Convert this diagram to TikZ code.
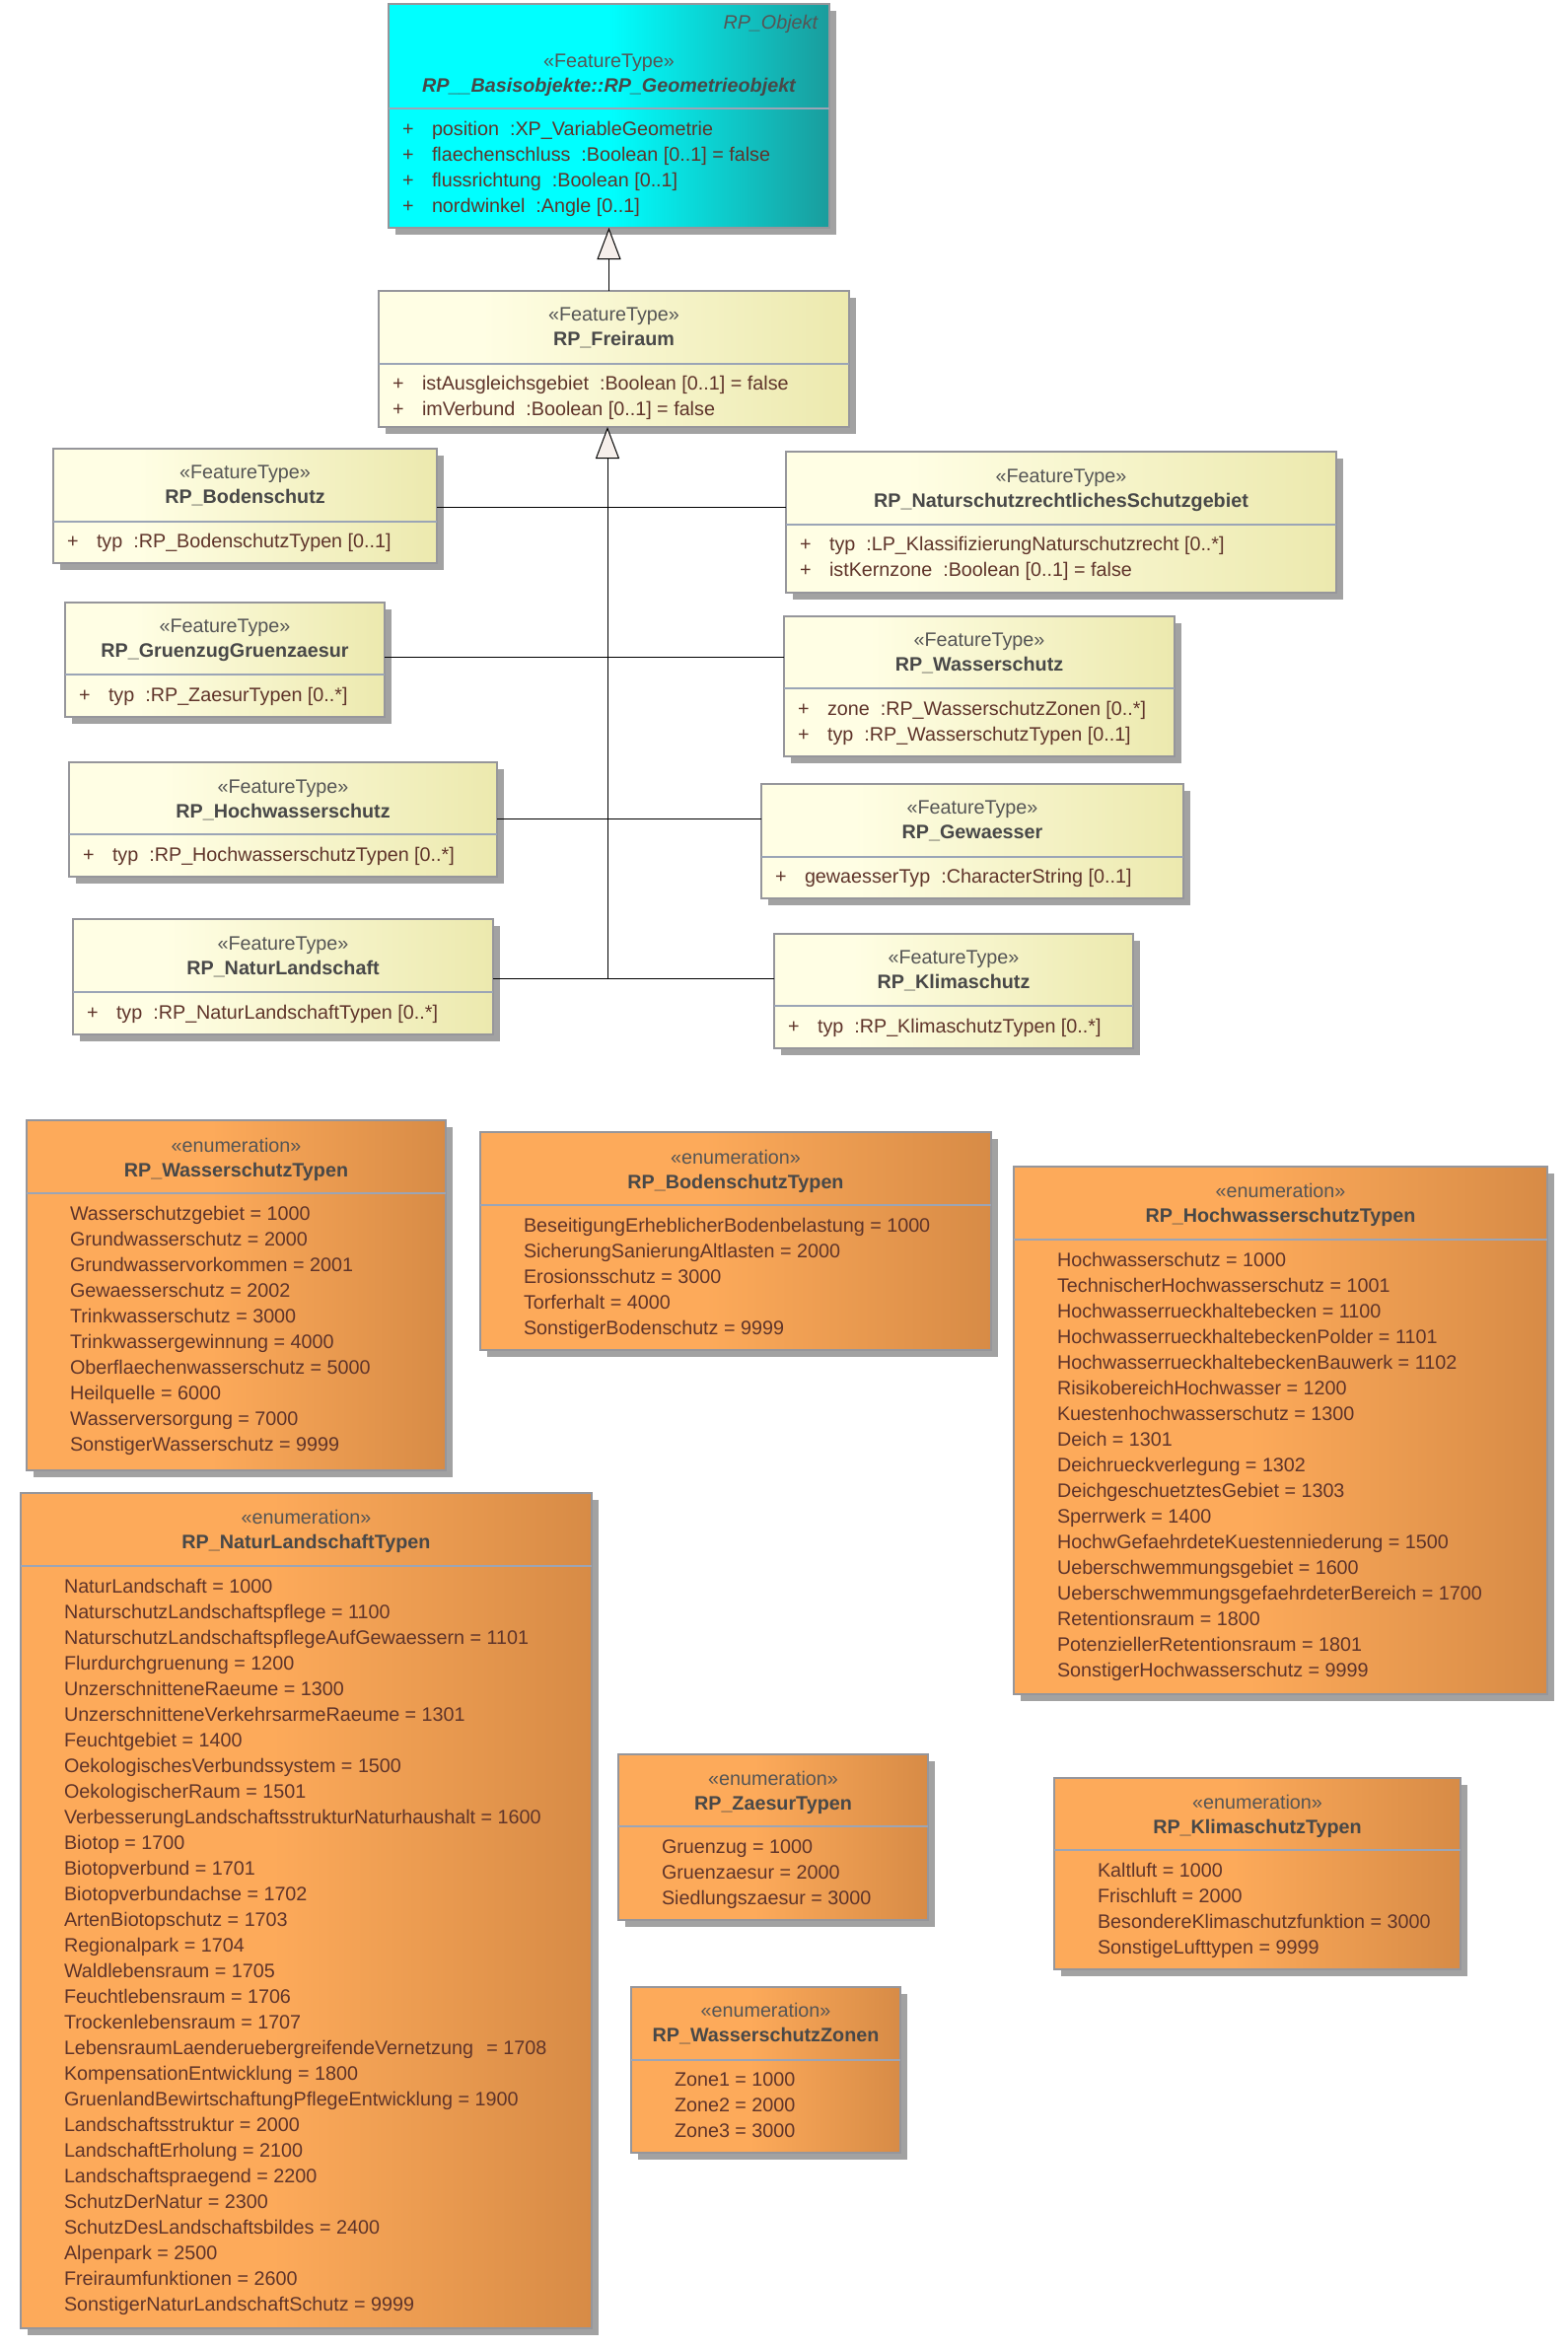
\documentclass[tikz,border=0pt]{standalone}
\usepackage{fontspec}
\setmainfont{Liberation Sans}
\usetikzlibrary{arrows.meta,shadows}

\definecolor{clsL}{RGB}{255,254,228}
\definecolor{clsR}{RGB}{236,233,174}
\definecolor{objL}{RGB}{0,255,255}
\definecolor{objR}{RGB}{26,156,156}
\definecolor{enL}{RGB}{253,170,90}
\definecolor{enR}{RGB}{215,139,70}
\definecolor{bordc}{RGB}{150,150,155}
\definecolor{divc}{RGB}{155,165,182}
\definecolor{shadc}{RGB}{162,162,162}
\definecolor{stc}{RGB}{85,85,85}
\definecolor{namec}{RGB}{72,72,72}
\definecolor{attc}{RGB}{95,52,42}
\definecolor{genfill}{RGB}{246,239,235}

\pgfdeclarehorizontalshading{clssh}{100bp}{color(0bp)=(clsL); color(25bp)=(clsL); color(36bp)=(clsL); color(75bp)=(clsR); color(100bp)=(clsR)}
\pgfdeclarehorizontalshading{objsh}{100bp}{color(0bp)=(objL); color(25bp)=(objL); color(50bp)=(objL); color(75bp)=(objR); color(100bp)=(objR)}
\pgfdeclarehorizontalshading{ensh}{100bp}{color(0bp)=(enL); color(25bp)=(enL); color(47bp)=(enL); color(75bp)=(enR); color(100bp)=(enR)}

\newcommand{\gp}{\hspace{11pt}}
% box: name, style, L, T, R, B, divider y
\newcommand{\ubox}[7]{%
  \node[#2, minimum width={(#5-#3)*1pt}, minimum height={(#6-#4)*1pt}] (#1) at (#3,#4) {};
  \draw[divline] (#3,#7) -- (#5,#7);
}
% header: prefix, cx, stereo y, stereotype, title
\newcommand{\hdr}[5]{%
  \node[sttext, anchor=base] (#1s) at (#2,#3+7) {«#4»};
  \node[nmtext, anchor=base] (#1n) at (#2,#3+32.5) {#5};
}
% attribute: id, L, y, text
\newcommand{\att}[4]{%
  \node[attext, anchor=base west] (#1p) at (#2+14,#3+7) {+};
  \node[attext, anchor=base west] (#1) at (#2+44,#3+7) {#4};
}
% literals: prefix, L, first y, list
\newcommand{\lits}[4]{%
  \foreach \t [count=\i from 0] in {#4} {%
    \node[attext, anchor=base west] (#1-\i) at (#2+44,#3+26*\i+7) {\t};
  }%
}

\begin{document}
\begin{tikzpicture}[x=1pt,y=-1pt,
  every node/.style={inner sep=0pt, outer sep=0pt, font=\fontsize{19.75}{23}\selectfont},
  boxbase/.style={draw=bordc, line width=1.2pt, anchor=north west,
    drop shadow={shadow xshift=6.5pt, shadow yshift=-6.5pt, fill=shadc, opacity=1}},
  clsbox/.style={boxbase, shade, shading=clssh},
  objbox/.style={boxbase, shade, shading=objsh},
  enbox/.style={boxbase, shade, shading=ensh},
  divline/.style={draw=divc, line width=1.2pt},
  sttext/.style={text=stc},
  nmtext/.style={text=namec, font=\fontsize{19.75}{23}\selectfont\bfseries},
  attext/.style={text=attc},
  conn/.style={draw=black, line width=1pt},
  gen/.style={draw=black, line width=1pt, -{Triangle[length=32pt, width=24pt, fill=genfill]}}
]
\useasboundingbox (0,0) rectangle (1590,2380);
\fill[white] (0,0) rectangle (1590,2380);

% ---------- RP_Geometrieobjekt ----------
\ubox{obj}{objbox}{394}{4}{841}{231}{110}
\node[sttext, anchor=base east, font=\fontsize{19.75}{23}\selectfont\itshape] (objtag) at (829,29) {RP\_Objekt};
\node[sttext, anchor=base] (objs) at (617.5,68) {«FeatureType»};
\node[nmtext, anchor=base, font=\fontsize{19.75}{23}\selectfont\bfseries\itshape] (objn) at (617.5,93.5) {RP\_\_Basisobjekte::RP\_Geometrieobjekt};
\att{obja1}{394}{130}{position\gp:XP\_VariableGeometrie}
\att{obja2}{394}{156}{flaechenschluss\gp:Boolean [0..1] = false}
\att{obja3}{394}{182}{flussrichtung\gp:Boolean [0..1]}
\att{obja4}{394}{208}{nordwinkel\gp:Angle [0..1]}

% ---------- RP_Freiraum ----------
\ubox{frei}{clsbox}{384}{295}{861}{433}{369}
\hdr{frei}{622.5}{318}{FeatureType}{RP\_Freiraum}
\att{freia1}{384}{388}{istAusgleichsgebiet\gp:Boolean [0..1] = false}
\att{freia2}{384}{414}{imVerbund\gp:Boolean [0..1] = false}

% ---------- subclasses ----------
\ubox{bod}{clsbox}{54}{455}{443}{571}{529}
\hdr{bod}{248.5}{478}{FeatureType}{RP\_Bodenschutz}
\att{boda1}{54}{548}{typ\gp:RP\_BodenschutzTypen [0..1]}

\ubox{nsg}{clsbox}{797}{458}{1355}{601}{532}
\hdr{nsg}{1076}{482}{FeatureType}{RP\_NaturschutzrechtlichesSchutzgebiet}
\att{nsga1}{797}{551}{typ\gp:LP\_KlassifizierungNaturschutzrecht [0..*]}
\att{nsga2}{797}{577}{istKernzone\gp:Boolean [0..1] = false}

\ubox{grz}{clsbox}{66}{611}{390}{727}{684}
\hdr{grz}{228}{634}{FeatureType}{RP\_GruenzugGruenzaesur}
\att{grza1}{66}{704}{typ\gp:RP\_ZaesurTypen [0..*]}

\ubox{wsz}{clsbox}{795}{625}{1191}{767}{698}
\hdr{wsz}{993}{648}{FeatureType}{RP\_Wasserschutz}
\att{wsza1}{795}{718}{zone\gp:RP\_WasserschutzZonen [0..*]}
\att{wsza2}{795}{744}{typ\gp:RP\_WasserschutzTypen [0..1]}

\ubox{hws}{clsbox}{70}{773}{504}{889}{846}
\hdr{hws}{287}{797}{FeatureType}{RP\_Hochwasserschutz}
\att{hwsa1}{70}{866}{typ\gp:RP\_HochwasserschutzTypen [0..*]}

\ubox{gew}{clsbox}{772}{795}{1200}{911}{869}
\hdr{gew}{986}{818}{FeatureType}{RP\_Gewaesser}
\att{gewa1}{772}{888}{gewaesserTyp\gp:CharacterString [0..1]}

\ubox{nat}{clsbox}{74}{932}{500}{1049}{1006}
\hdr{nat}{287}{956}{FeatureType}{RP\_NaturLandschaft}
\att{nata1}{74}{1026}{typ\gp:RP\_NaturLandschaftTypen [0..*]}

\ubox{kli}{clsbox}{785}{947}{1149}{1063}{1020}
\hdr{kli}{967}{970}{FeatureType}{RP\_Klimaschutz}
\att{klia1}{785}{1040}{typ\gp:RP\_KlimaschutzTypen [0..*]}

% ---------- connectors ----------
\coordinate (j1) at (616,514);
\coordinate (j2) at (616,666);
\coordinate (j3) at (616,830);
\coordinate (tb) at (616,992);
\draw[conn] (bod.east |- j1) -- (nsg.west |- j1);
\draw[conn] (grz.east |- j2) -- (wsz.west |- j2);
\draw[conn] (hws.east |- j3) -- (gew.west |- j3);
\draw[conn] (nat.east |- tb) -- (kli.west |- tb);
\draw[gen] (tb) -- (tb |- frei.south);
\draw[gen] (frei.north -| obj.south) -- (obj.south);

% ---------- enumerations ----------
\ubox{e1}{enbox}{27}{1136}{452}{1491}{1210}
\hdr{e1}{239.5}{1161}{enumeration}{RP\_WasserschutzTypen}
\lits{e1l}{27}{1230}{Wasserschutzgebiet = 1000, Grundwasserschutz = 2000, Grundwasservorkommen = 2001, Gewaesserschutz = 2002, Trinkwasserschutz = 3000, Trinkwassergewinnung = 4000, Oberflaechenwasserschutz = 5000, Heilquelle = 6000, Wasserversorgung = 7000, SonstigerWasserschutz = 9999}

\ubox{e2}{enbox}{487}{1148}{1005}{1369}{1222}
\hdr{e2}{746}{1173}{enumeration}{RP\_BodenschutzTypen}
\lits{e2l}{487}{1242}{BeseitigungErheblicherBodenbelastung = 1000, SicherungSanierungAltlasten = 2000, Erosionsschutz = 3000, Torferhalt = 4000, SonstigerBodenschutz = 9999}

\ubox{e3}{enbox}{1028}{1183}{1569}{1718}{1257}
\hdr{e3}{1298.5}{1207}{enumeration}{RP\_HochwasserschutzTypen}
\lits{e3l}{1028}{1277}{Hochwasserschutz = 1000, TechnischerHochwasserschutz = 1001, Hochwasserrueckhaltebecken = 1100, HochwasserrueckhaltebeckenPolder = 1101, HochwasserrueckhaltebeckenBauwerk = 1102, RisikobereichHochwasser = 1200, Kuestenhochwasserschutz = 1300, Deich = 1301, Deichrueckverlegung = 1302, DeichgeschuetztesGebiet = 1303, Sperrwerk = 1400, HochwGefaehrdeteKuestenniederung = 1500, Ueberschwemmungsgebiet = 1600, UeberschwemmungsgefaehrdeterBereich = 1700, Retentionsraum = 1800, PotenziellerRetentionsraum = 1801, SonstigerHochwasserschutz = 9999}

\ubox{e4}{enbox}{21}{1514}{600}{2361}{1588}
\hdr{e4}{310.5}{1538}{enumeration}{RP\_NaturLandschaftTypen}
\lits{e4l}{21}{1608}{NaturLandschaft = 1000, NaturschutzLandschaftspflege = 1100, NaturschutzLandschaftspflegeAufGewaessern = 1101, Flurdurchgruenung = 1200, UnzerschnitteneRaeume = 1300, UnzerschnitteneVerkehrsarmeRaeume = 1301, Feuchtgebiet = 1400, OekologischesVerbundssystem = 1500, OekologischerRaum = 1501, VerbesserungLandschaftsstrukturNaturhaushalt = 1600, Biotop = 1700, Biotopverbund = 1701, Biotopverbundachse = 1702, ArtenBiotopschutz = 1703, Regionalpark = 1704, Waldlebensraum = 1705, Feuchtlebensraum = 1706, Trockenlebensraum = 1707, LebensraumLaenderuebergreifendeVernetzung\hspace{8pt} = 1708, KompensationEntwicklung = 1800, GruenlandBewirtschaftungPflegeEntwicklung = 1900, Landschaftsstruktur = 2000, LandschaftErholung = 2100, Landschaftspraegend = 2200, SchutzDerNatur = 2300, SchutzDesLandschaftsbildes = 2400, Alpenpark = 2500, Freiraumfunktionen = 2600, SonstigerNaturLandschaftSchutz = 9999}

\ubox{e5}{enbox}{627}{1779}{941}{1947}{1852}
\hdr{e5}{784}{1803}{enumeration}{RP\_ZaesurTypen}
\lits{e5l}{627}{1872}{Gruenzug = 1000, Gruenzaesur = 2000, Siedlungszaesur = 3000}

\ubox{e6}{enbox}{1069}{1803}{1481}{1997}{1876}
\hdr{e6}{1275}{1827}{enumeration}{RP\_KlimaschutzTypen}
\lits{e6l}{1069}{1896}{Kaltluft = 1000, Frischluft = 2000, BesondereKlimaschutzfunktion = 3000, SonstigeLufttypen = 9999}

\ubox{e7}{enbox}{640}{2015}{913}{2183}{2089}
\hdr{e7}{776.5}{2038}{enumeration}{RP\_WasserschutzZonen}
\lits{e7l}{640}{2108}{Zone1 = 1000, Zone2 = 2000, Zone3 = 3000}
\end{tikzpicture}
\end{document}
